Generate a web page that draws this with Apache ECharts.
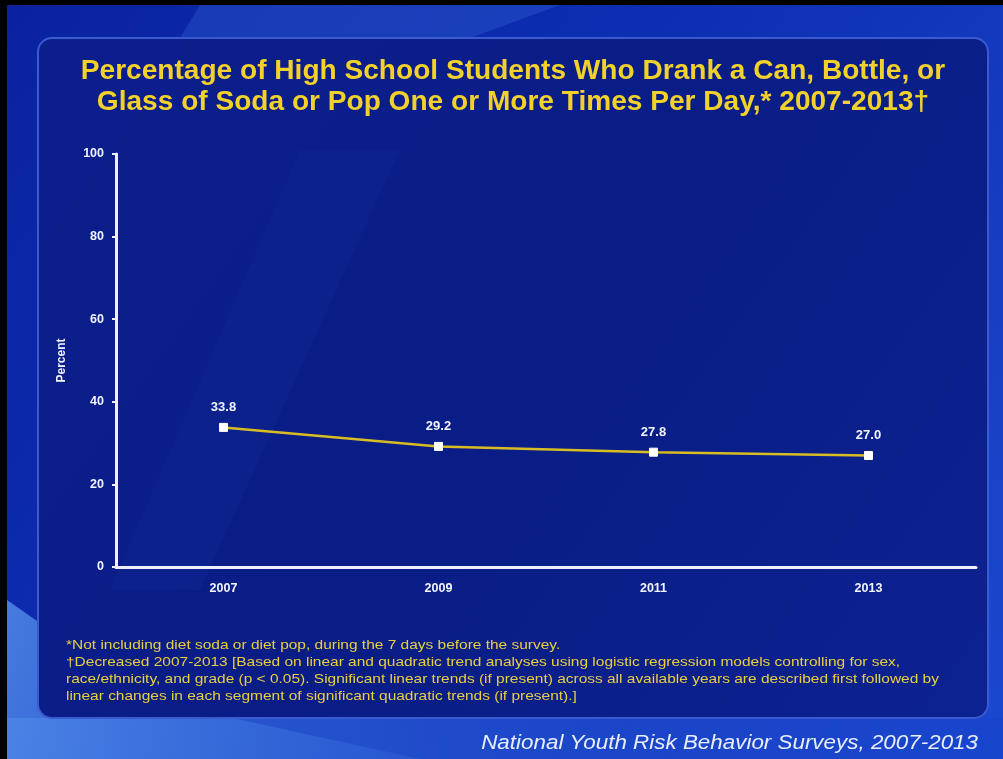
<!DOCTYPE html>
<html>
<head>
<meta charset="utf-8">
<script src="https://cdn.jsdelivr.net/npm/echarts@6/dist/echarts.min.js"></script>
<style>
html,body{margin:0;padding:0;background:#000;}
#c{width:1003px;height:759px;}
</style>
</head>
<body>
<div id="c"></div>
<script>
var years = ['2007', '2009', '2011', '2013'];
var percent = [33.8, 29.2, 27.8, 27.0];
var yTicks = [0, 20, 40, 60, 80, 100];
var titleLines = ['Percentage of High School Students Who Drank a Can, Bottle, or', 'Glass of Soda or Pop One or More Times Per Day,* 2007-2013\u2020'];
var footnotes = [
  '*Not including diet soda or diet pop, during the 7 days before the survey.',
  '\u2020Decreased 2007-2013 [Based on linear and quadratic trend analyses using logistic regression models controlling for sex,',
  'race/ethnicity, and grade (p < 0.05). Significant linear trends (if present) across all available years are described first followed by',
  'linear changes in each segment of significant quadratic trends (if present).]'
];
var sourceText = 'National Youth Risk Behavior Surveys, 2007-2013';

var chart = echarts.init(document.getElementById('c'), null, {renderer: 'canvas'});
var font = 'Liberation Sans, Arial, sans-serif';

var graphics = [
  {type: 'rect', z: -10, silent: true, shape: {x: 7, y: 5, width: 996, height: 754},
   style: {fill: new echarts.graphic.LinearGradient(0, 0, 1, 1, [
     {offset: 0, color: '#0a22a0'}, {offset: 0.45, color: '#0d2fb4'}, {offset: 0.8, color: '#1840c4'}, {offset: 1, color: '#1a48d0'}])}},
  {type: 'polygon', z: -9, silent: true, shape: {points: [[7, 600], [7, 759], [420, 759], [150, 700]]},
   style: {fill: new echarts.graphic.LinearGradient(0, 0, 1, 1, [
     {offset: 0, color: 'rgba(90,150,240,0.75)'}, {offset: 1, color: 'rgba(60,110,220,0.35)'}])}},
  {type: 'rect', z: -9, silent: true, shape: {x: 7, y: 718, width: 996, height: 41},
   style: {fill: new echarts.graphic.LinearGradient(0, 0, 1, 0, [
     {offset: 0, color: 'rgba(80,140,235,0.6)'}, {offset: 0.5, color: 'rgba(40,90,215,0.45)'}, {offset: 1, color: 'rgba(20,60,200,0.2)'}])}},
  {type: 'polygon', z: -9, silent: true, shape: {points: [[200, 5], [560, 5], [470, 38], [180, 38]]},
   style: {fill: 'rgba(60,110,220,0.3)'}},
  {type: 'rect', z: -8, silent: true, shape: {x: 38, y: 38, width: 950, height: 680, r: 14},
   style: {fill: new echarts.graphic.LinearGradient(0, 0, 1, 1, [
     {offset: 0, color: '#0b1e8c'}, {offset: 0.5, color: '#0a1d86'}, {offset: 1, color: '#0c2290'}]),
     stroke: '#3a5ad0', lineWidth: 2}},
  {type: 'polygon', z: -7, silent: true, shape: {points: [[110, 590], [300, 150], [400, 150], [200, 590]]},
   style: {fill: 'rgba(40,70,180,0.1)'}}
];
for (var i = 0; i < titleLines.length; i++) {
  graphics.push({type: 'text', z: 5, x: 513, y: 72 + i * 31, scaleX: 1.04, scaleY: 1,
    style: {text: titleLines[i], x: 0, y: 0, textAlign: 'center', textVerticalAlign: 'middle',
      fill: '#f2d22a', font: 'bold 27px ' + font,
      shadowColor: 'rgba(0,0,0,0.6)', shadowBlur: 2, shadowOffsetX: 1, shadowOffsetY: 1}});
}
for (var j = 0; j < footnotes.length; j++) {
  graphics.push({type: 'text', z: 5, x: 66, y: 645 + j * 17.3, scaleX: 1.19, scaleY: 1,
    style: {text: footnotes[j], x: 0, y: 0, textAlign: 'left', textVerticalAlign: 'middle',
      fill: '#e8cf40', font: '13px ' + font}});
}
graphics.push({type: 'text', z: 5, x: 978, y: 743, scaleX: 1.12, scaleY: 1,
  style: {text: sourceText, x: 0, y: 0, textAlign: 'right', textVerticalAlign: 'middle',
    fill: '#e8eefc', font: 'italic 20px ' + font}});

var option = {
  backgroundColor: '#000',
  animation: false,
  graphic: graphics,
  grid: {left: 116, right: 27, top: 154, bottom: 192, containLabel: false},
  xAxis: {
    type: 'category',
    data: years,
    boundaryGap: true,
    axisLine: {show: true, lineStyle: {color: '#eef0ff', width: 3}},
    axisTick: {show: false},
    axisLabel: {color: '#f2f4ff', fontWeight: 'bold', fontSize: 12.5, fontFamily: font, margin: 15}
  },
  yAxis: {
    type: 'value',
    min: yTicks[0],
    max: yTicks[yTicks.length - 1],
    interval: 20,
    name: 'Percent',
    nameLocation: 'middle',
    nameGap: 48,
    nameRotate: 90,
    nameTextStyle: {color: '#f2f4ff', fontWeight: 'bold', fontSize: 12, fontFamily: font},
    axisLine: {show: true, lineStyle: {color: '#eef0ff', width: 3}},
    axisTick: {show: true, length: 4, inside: false, lineStyle: {color: '#eef0ff', width: 2}},
    axisLabel: {color: '#f2f4ff', fontWeight: 'bold', fontSize: 12.5, fontFamily: font, margin: 12},
    splitLine: {show: false}
  },
  series: [{
    type: 'line',
    data: percent,
    symbol: 'rect',
    symbolSize: 8,
    showAllSymbol: true,
    lineStyle: {color: '#d9bc22', width: 2.5},
    itemStyle: {color: '#ffffff', borderColor: '#ffffff'},
    label: {show: true, position: 'top', distance: 9, color: '#f2f4ff', fontWeight: 'bold', fontSize: 13, fontFamily: font,
      formatter: function (p) { return p.value.toFixed(1); }}
  }]
};
chart.setOption(option);
</script>
</body>
</html>
